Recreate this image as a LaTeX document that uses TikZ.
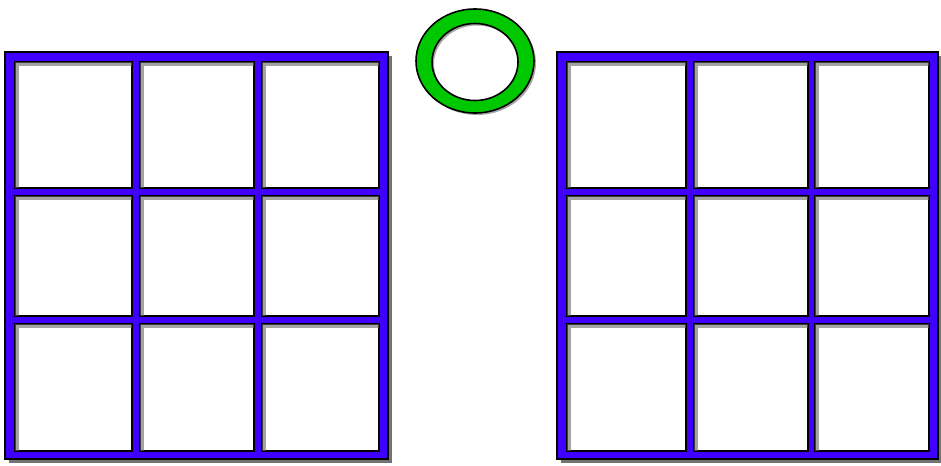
\documentclass[tikz,border=0pt]{standalone}
\usetikzlibrary{shadows}

\definecolor{gradeazul}{RGB}{64,0,255}
\definecolor{anelverde}{RGB}{0,200,0}

\tikzset{
  grade/.style={fill=gradeazul, draw=black, line width=0.9pt,
    drop shadow={shadow xshift=2.2pt, shadow yshift=-2.2pt, opacity=0.55, fill=black}},
  casa/.style={fill=white, draw=black, line width=1.1pt},
  sombracasa/.style={draw=black!60, line width=1.8pt, opacity=0.6},
}

\begin{document}
\begin{tikzpicture}[x=0.02cm, y=-0.02cm]
    \useasboundingbox (0,0) rectangle (941,466);

    % --- Tabuleiro da esquerda ---
    \begin{scope}[shift={(0,0)}]
        % Moldura azul
        \draw[grade] (5,52) rectangle (388,459);
        % Casas
        \foreach \xa/\xb in {15/132, 140/254, 262/379}
            \foreach \ya/\yb in {62/188, 196/316, 324/451} {
                \draw[casa] (\xa,\ya) rectangle (\xb,\yb);
                \draw[sombracasa] (\xa+2,\yb) -- (\xa+2,\ya+2) -- (\xb,\ya+2);
            }
    \end{scope}

    % --- Anel verde (jogada) ---
    % sombra do anel
    \fill[black, opacity=0.35, even odd rule]
        (477,63) ellipse (59 and 52) (477,64) ellipse (43 and 38.5);
    \path[fill=anelverde, draw=black, line width=0.9pt, even odd rule]
        (475,61) ellipse (59 and 52) (475,62) ellipse (43 and 38.5);

    % --- Tabuleiro da direita ---
    \begin{scope}[shift={(552,0)}]
        % Moldura azul
        \draw[grade] (5,52) rectangle (386,459);
        % Casas
        \foreach \xa/\xb in {15/134, 142/256, 263/377}
            \foreach \ya/\yb in {62/188, 196/316, 324/451} {
                \draw[casa] (\xa,\ya) rectangle (\xb,\yb);
                \draw[sombracasa] (\xa+2,\yb) -- (\xa+2,\ya+2) -- (\xb,\ya+2);
            }
    \end{scope}
\end{tikzpicture}
\end{document}
